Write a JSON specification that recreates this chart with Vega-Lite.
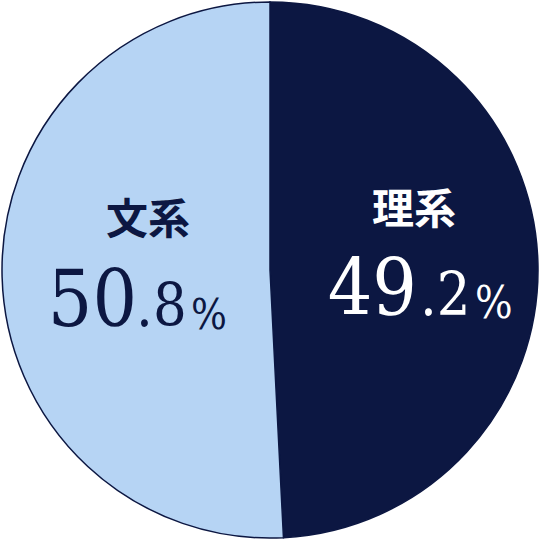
{
  "$schema": "https://vega.github.io/schema/vega-lite/v6.json",
  "width": 540,
  "height": 540,
  "autosize": {"type": "fit", "contains": "padding"},
  "padding": 0,
  "background": "white",
  "view": {"stroke": null},
  "data": {"values": [
    {"category": "理系", "value": 49.2, "whole": "49", "frac": ".2"},
    {"category": "文系", "value": 50.8, "whole": "50", "frac": ".8"}
  ]},
  "encoding": {
    "theta": {"field": "value", "type": "quantitative", "stack": true},
    "order": {"field": "value", "sort": "ascending"}
  },
  "layer": [
    {
      "mark": {"type": "arc", "outerRadius": 268, "stroke": "#0c1742", "strokeWidth": 1.5},
      "encoding": {
        "color": {"field": "category", "type": "nominal", "scale": {"domain": ["理系", "文系"], "range": ["#0c1742", "#b6d4f4"]}, "legend": null}
      }
    },
    {
      "mark": {"type": "text", "radius": 150, "dx": -6, "dy": -55, "font": "Noto Sans CJK JP", "fontWeight": "bold", "fontSize": 42, "fill": "white", "baseline": "middle", "align": "center"},
      "encoding": {"text": {"condition": {"test": "datum.category === '理系'", "field": "category"}, "value": ""}}
    },
    {
      "mark": {"type": "text", "radius": 150, "dx": -3, "dy": 49, "font": "DejaVu Serif Condensed", "fontSize": 78, "fill": "white", "baseline": "alphabetic", "align": "right"},
      "encoding": {"text": {"condition": {"test": "datum.category === '理系'", "field": "whole"}, "value": ""}}
    },
    {
      "mark": {"type": "text", "radius": 150, "dx": 0, "dy": 49, "font": "DejaVu Serif Condensed", "fontSize": 59, "fill": "white", "baseline": "alphabetic", "align": "left"},
      "encoding": {"text": {"condition": {"test": "datum.category === '理系'", "field": "frac"}, "value": ""}}
    },
    {
      "mark": {"type": "text", "radius": 150, "dx": 55, "dy": 52, "font": "DejaVu Serif Condensed", "fontSize": 44, "fill": "white", "baseline": "alphabetic", "align": "left", "text": "%"},
      "encoding": {"opacity": {"condition": {"test": "datum.category === '理系'", "value": 1}, "value": 0}}
    },
    {
      "mark": {"type": "text", "radius": 150, "dx": 28, "dy": -53, "font": "Noto Sans CJK JP", "fontWeight": "bold", "fontSize": 42, "fill": "#0c1742", "baseline": "middle", "align": "center"},
      "encoding": {"text": {"condition": {"test": "datum.category === '文系'", "field": "category"}, "value": ""}}
    },
    {
      "mark": {"type": "text", "radius": 150, "dx": 17, "dy": 52, "font": "DejaVu Serif Condensed", "fontSize": 78, "fill": "#0c1742", "baseline": "alphabetic", "align": "right"},
      "encoding": {"text": {"condition": {"test": "datum.category === '文系'", "field": "whole"}, "value": ""}}
    },
    {
      "mark": {"type": "text", "radius": 150, "dx": 16, "dy": 52, "font": "DejaVu Serif Condensed", "fontSize": 59, "fill": "#0c1742", "baseline": "alphabetic", "align": "left"},
      "encoding": {"text": {"condition": {"test": "datum.category === '文系'", "field": "frac"}, "value": ""}}
    },
    {
      "mark": {"type": "text", "radius": 150, "dx": 71, "dy": 55, "font": "DejaVu Serif Condensed", "fontSize": 42, "fill": "#0c1742", "baseline": "alphabetic", "align": "left", "text": "%"},
      "encoding": {"opacity": {"condition": {"test": "datum.category === '文系'", "value": 1}, "value": 0}}
    }
  ]
}
